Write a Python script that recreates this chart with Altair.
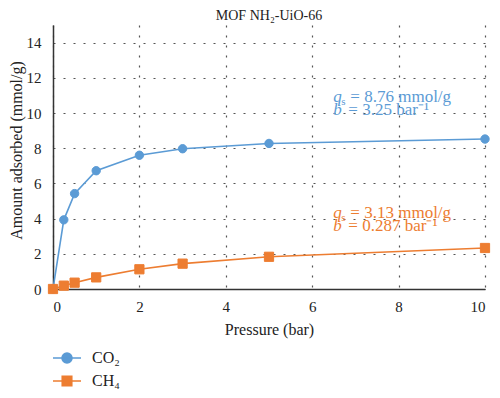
import altair as alt
import pandas as pd

pressure = [0, 0.25, 0.5, 1, 2, 3, 5, 10]
co2 = [0, 3.93, 5.42, 6.72, 7.6, 7.97, 8.27, 8.52]
ch4 = [0, 0.19, 0.36, 0.66, 1.12, 1.44, 1.83, 2.33]
series = ["CO₂", "CH₄"]
colors = ["#5B9BD5", "#ED7D31"]

ann_x = [6.49, 6.49]
ann_y1 = [10.92, 4.32]
ann_y2 = [10.17, 3.58]
ann_line1 = ["= 8.76 mmol/g", "= 3.13 mmol/g"]
ann_line2 = ["= 3.25 bar⁻¹", "= 0.287 bar⁻¹"]

FONT = "Liberation Serif"

rows = []
for p, a, b in zip(pressure, co2, ch4):
    rows.append({"P": p, "q": a, "gas": series[0]})
    rows.append({"P": p, "q": b, "gas": series[1]})
df = pd.DataFrame(rows)

ann1 = pd.DataFrame({"P": ann_x, "q": ann_y1, "txt": ann_line1, "gas": series})
ann2 = pd.DataFrame({"P": ann_x, "q": ann_y2, "txt": ann_line2, "gas": series})

legend_shape = ("datum.value === 'CO₂' ? "
                "'M-2.8,0L2.8,0M-1,0A1,1,0,1,1,1,0A1,1,0,1,1,-1,0' : "
                "'M-2.8,0L2.8,0M-0.95,-0.95L0.95,-0.95L0.95,0.95L-0.95,0.95Z'")

X = alt.X("P:Q", scale=alt.Scale(domain=[0, 10], nice=False), title="Pressure (bar)",
          axis=alt.Axis(values=[0, 2, 4, 6, 8, 10], labelPadding=10, titlePadding=7))
Y = alt.Y("q:Q", scale=alt.Scale(domain=[0, 15], nice=False),
          title="Amount adsorbed (mmol/g)",
          axis=alt.Axis(values=[0, 2, 4, 6, 8, 10, 12, 14], labelPadding=12,
                        titleX=-37, titleY=125, titleBaseline="middle"))
LEG = alt.Legend(orient="none", legendX=6, legendY=325, title=None,
                 padding=0, symbolSize=100, symbolStrokeWidth=1.6,
                 symbolType=alt.ExprRef(expr=legend_shape),
                 symbolOpacity=1, labelOffset=17, rowPadding=6,
                 labelFontSize=16, labelFont=FONT, labelColor="#222")
CSCALE = alt.Scale(domain=series, range=colors)
C = alt.Color("gas:N", scale=CSCALE, sort=series, title=None, legend=LEG)
S = alt.Stroke("gas:N", scale=CSCALE, sort=series, title=None, legend=LEG)

lines = alt.Chart(df).mark_line(strokeWidth=1.6, clip=False).encode(
    x=X, y=Y, color=C, detail="gas:N")

def pts(name, shape, size):
    return alt.Chart(df).transform_filter(alt.datum.gas == name).mark_point(
        filled=True, opacity=1, strokeWidth=1, shape=shape, size=size, clip=False
    ).encode(x=X, y=Y, color=C, stroke=S)

def txt(data, text, dx, dy=0, size=17, style="normal"):
    return alt.Chart(data).mark_text(align="left", baseline="middle", font=FONT,
                                     fontSize=size, fontStyle=style, dx=dx, dy=dy).encode(
        x=X, y=Y, color=C, text=text)

layers = [
    lines,
    pts(series[0], "circle", 70),
    pts(series[1], "square", 85),
    txt(ann1, alt.value("q"), 0, style="italic"),
    txt(ann1, alt.value("s"), 8, dy=5, size=11),
    txt(ann1, "txt:N", 17),
    txt(ann2, alt.value("b"), 0, style="italic"),
    txt(ann2, "txt:N", 15),
]

chart = alt.layer(*layers).properties(
    width=432, height=264,
    title=alt.Title("MOF NH₂-UiO-66", font=FONT, fontSize=14, fontWeight="normal",
                    color="#222", offset=2),
    padding={"left": 45, "top": 17, "right": 7, "bottom": 101},
    autosize=alt.AutoSizeParams(type="none"),
).configure_axis(
    grid=True, gridColor="#555", gridDash=[2, 8], gridWidth=1.2,
    ticks=False, domainColor="#333", domainWidth=1.5, labelOverlap=False,
    labelFont=FONT, labelFontSize=15, labelColor="#222",
    titleFont=FONT, titleFontSize=16, titleFontWeight="normal", titleColor="#222",
).configure_view(stroke=None)

chart.save("out.html", embed_options={"renderer": "svg", "actions": False})
